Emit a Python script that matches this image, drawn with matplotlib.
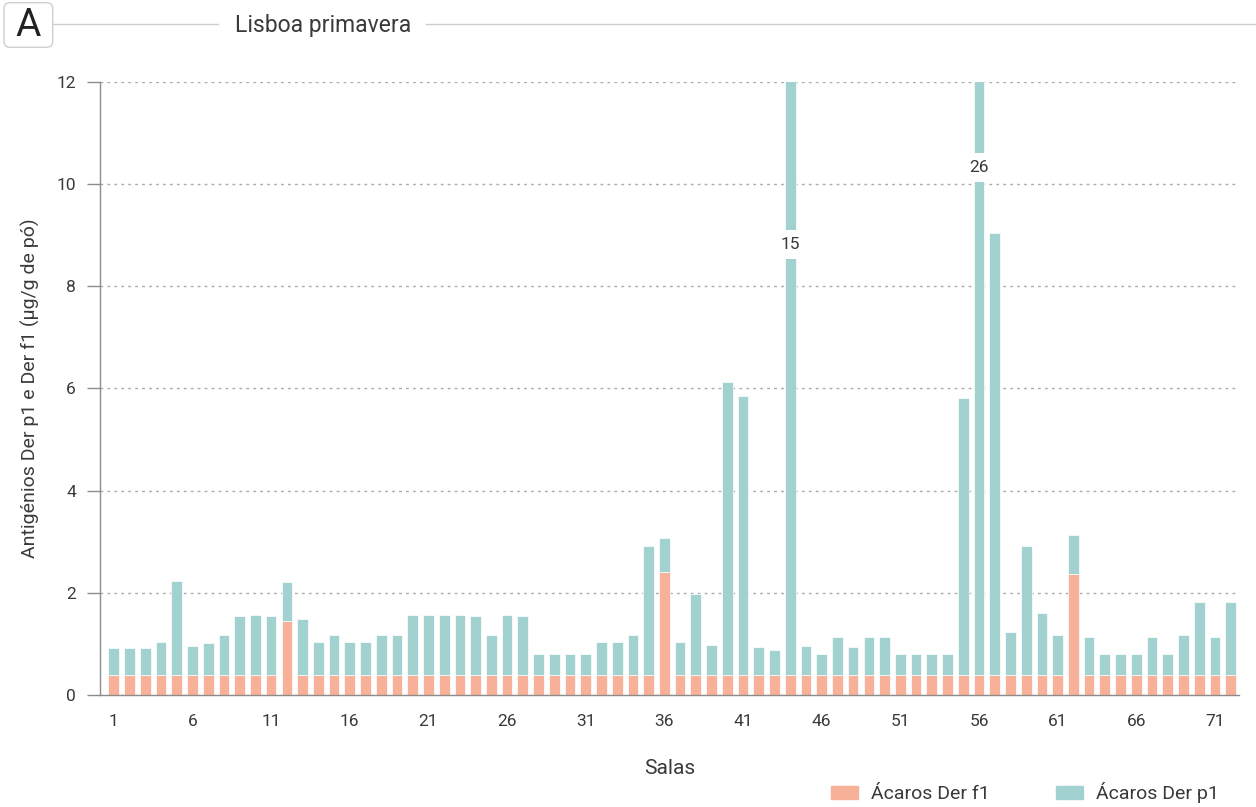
import numpy as np
import matplotlib
matplotlib.use("Agg")
import matplotlib.pyplot as plt
from matplotlib.patches import FancyBboxPatch, Patch
from matplotlib.lines import Line2D

plt.rcParams['font.family'] = ['Roboto', 'DejaVu Sans']

# Salas 1..72, stacked Der f1 + Der p1 (total per room)
salas = list(range(1, 73))

der_f1 = [0.39, 0.39, 0.39, 0.39, 0.39, 0.39, 0.39, 0.39, 0.39, 0.39,
          0.39, 1.45, 0.39, 0.39, 0.39, 0.39, 0.39, 0.39, 0.39, 0.39,
          0.39, 0.39, 0.39, 0.39, 0.39, 0.39, 0.39, 0.39, 0.39, 0.39,
          0.39, 0.39, 0.39, 0.39, 0.39, 2.40, 0.39, 0.39, 0.39, 0.39,
          0.39, 0.39, 0.39, 0.39, 0.39, 0.39, 0.39, 0.39, 0.39, 0.39,
          0.39, 0.39, 0.39, 0.39, 0.39, 0.39, 0.39, 0.39, 0.39, 0.39,
          0.39, 2.37, 0.39, 0.39, 0.39, 0.39, 0.39, 0.39, 0.39, 0.39,
          0.39, 0.39]

total = [0.92, 0.92, 0.92, 1.04, 2.24, 0.95, 1.01, 1.17, 1.54, 1.57,
         1.54, 2.21, 1.48, 1.04, 1.17, 1.04, 1.04, 1.17, 1.17, 1.57,
         1.57, 1.57, 1.57, 1.54, 1.17, 1.57, 1.54, 0.80, 0.80, 0.80,
         0.80, 1.04, 1.04, 1.17, 2.92, 3.08, 1.04, 1.97, 0.98, 6.12,
         5.85, 0.93, 0.89, 15, 0.96, 0.80, 1.14, 0.93, 1.14, 1.14,
         0.80, 0.80, 0.80, 0.80, 5.81, 26, 9.04, 1.23, 2.92, 1.60,
         1.17, 3.14, 1.14, 0.80, 0.80, 0.80, 1.14, 0.80, 1.17, 1.81,
         1.14, 1.81]

der_p1 = np.array(total) - np.array(der_f1)

# bars that run off the top get their value written inside a gap
broken = {44: 8.82, 56: 10.32}

orange = '#F7B198'
teal = '#A2D2CF'
txt = '#3a3a3a'
axis_grey = '#8c8c8c'

W, H = 1256, 807
fig = plt.figure(figsize=(W / 100, H / 100), dpi=100)
ax = fig.add_axes([100 / W, 112 / H, 1138.5 / W, 613.3 / H])

ax.bar(salas, der_f1, width=0.68, color=orange, edgecolor='white', linewidth=0.5, zorder=2)
ax.bar(salas, der_p1, bottom=der_f1, width=0.68, color=teal, edgecolor='white', linewidth=0.5, zorder=2)

for sala, ypos in broken.items():
    ax.text(sala, ypos, f"{total[sala - 1]:g}", ha='center', va='center', fontsize=12.5,
            color=txt, zorder=5,
            bbox=dict(boxstyle='square,pad=0.4', fc='white', ec='none'))

ax.set_xlim(0.12, 72.5)
ax.set_ylim(0, 12)
ax.set_yticks(range(0, 13, 2))
ax.set_xticks(salas[::5])

ax.yaxis.grid(True, linestyle=(0, (2, 3)), color='#aaaaaa', linewidth=1)
ax.set_axisbelow(True)

for side in ('top', 'right'):
    ax.spines[side].set_visible(False)
for side in ('left', 'bottom'):
    ax.spines[side].set_color(axis_grey)
    ax.spines[side].set_linewidth(1)

ax.tick_params(axis='y', length=9.4, width=1, color=axis_grey, pad=8, labelsize=12.5, labelcolor=txt)
ax.tick_params(axis='x', length=0, pad=14, labelsize=12.5, labelcolor=txt)

ax.set_ylabel('Antigénios Der p1 e Der f1 (µg/g de pó)', fontsize=14, color=txt)
ax.yaxis.set_label_coords(-0.0525, 0.5)
ax.set_xlabel('Salas', fontsize=15, color=txt)
ax.xaxis.set_label_coords(0.5, -0.104)

fig.legend(handles=[Patch(color=orange, label='Ácaros Der f1'),
                    Patch(color=teal, label='Ácaros Der p1')],
           loc='center right', bbox_to_anchor=(1219 / W, 1 - 792.5 / H), ncol=2,
           frameon=False, fontsize=14, handlelength=1.39, handleheight=0.67,
           handletextpad=0.67, columnspacing=3.4, borderpad=0, borderaxespad=0,
           labelcolor=txt)

# header: panel letter box and title rule
tr = fig.dpi_scale_trans
fig.add_artist(FancyBboxPatch((4 / 100, (H - 47.3) / 100), 48.7 / 100, 44.6 / 100,
                              boxstyle='round,pad=0,rounding_size=0.06',
                              transform=tr, fc='white', ec='#cfcfcf', lw=1))
fig.text(28.5 / W, 1 - 25.5 / H, 'A', fontsize=28, ha='center', va='center',
         color='#222222')
rule_y = (H - 24.3) / 100
fig.add_artist(Line2D([53 / 100, 218 / 100], [rule_y, rule_y], transform=tr, color='#cccccc', lw=1))
fig.add_artist(Line2D([426 / 100, W / 100], [rule_y, rule_y], transform=tr, color='#cccccc', lw=1))
fig.text(235 / W, 1 - 31.7 / H, 'Lisboa primavera', fontsize=16.5, ha='left', va='baseline', color=txt)

fig.savefig('out.png', dpi=100)
